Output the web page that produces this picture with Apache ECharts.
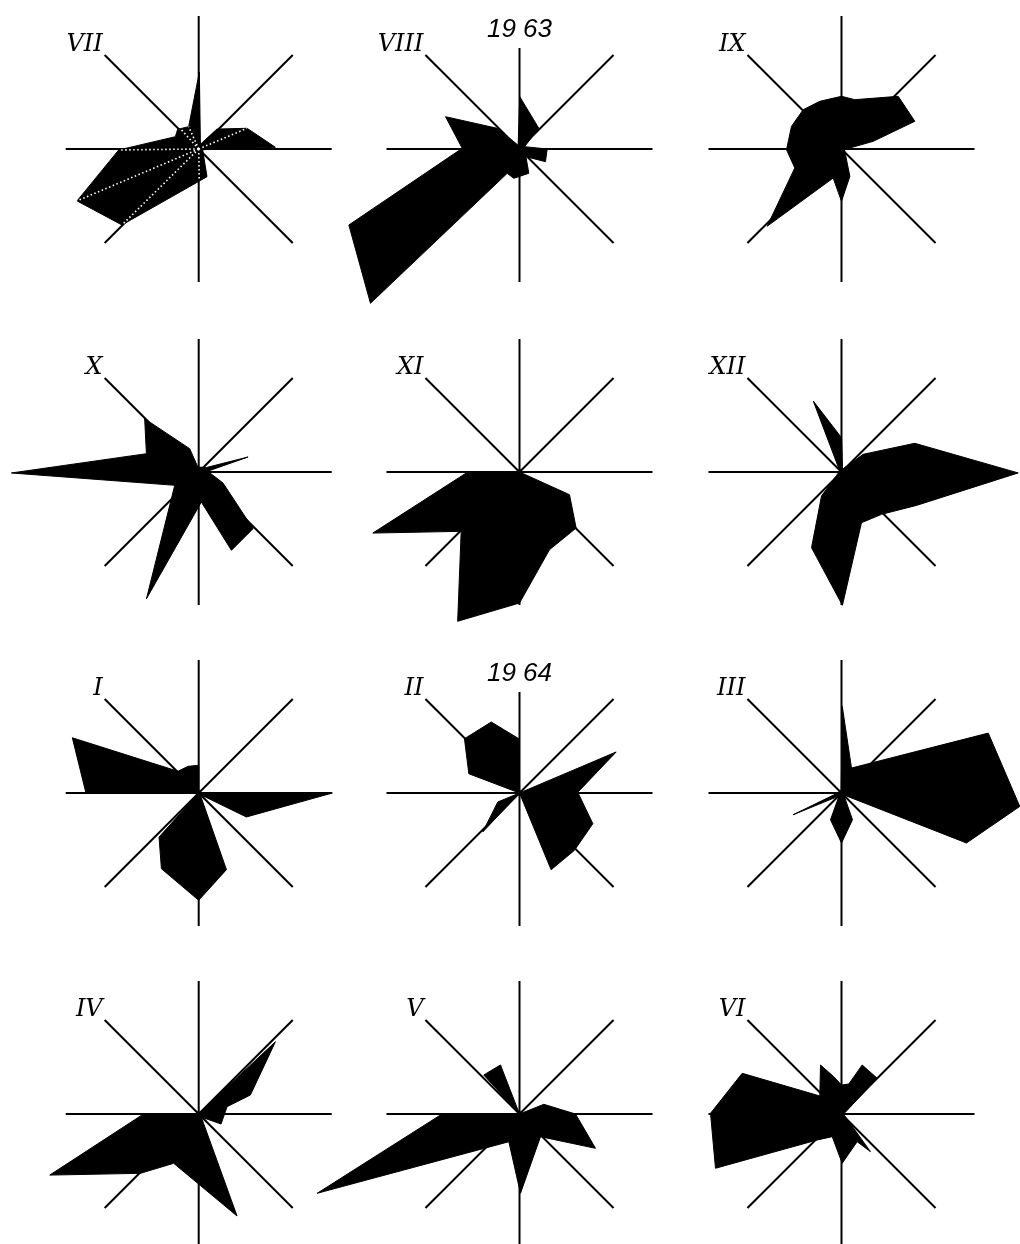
<!DOCTYPE html>
<html><head><meta charset="utf-8">
<script src="https://cdn.jsdelivr.net/npm/echarts@6/dist/echarts.min.js"></script>
<style>html,body{margin:0;padding:0;background:#fff}#c{width:1020px;height:1244px}</style>
</head><body><div id="c"></div>
<script>
// Month labels in panel order (row by row)
const months = ['VII','VIII','IX','X','XI','XII','I','II','III','IV','V','VI'];
const yearLabels = ['19 63', '19 64'];   // above VIII and II
const yearPanels = [1, 7];

// Wind-rose outlines: [bearing in degrees from north (clockwise), value]
const roseVII  = [[0.5,77],[20,5],[42.5,27],[66.8,52.6],[88.7,76.7],[100,4],[163.3,28.9],[225.3,108],[246.9,132.3],[269.3,80],[297.8,26.4],[313,28.8],[335.8,24.5]];
const raysVII  = [[269.3,80],[246.9,132.3],[225.3,108],[179,31],[66.8,52.6],[318,27],[335.8,24.5]];
const roseVIII = [[0.3,52.3],[43,28.3],[65,5.5],[90,27.7],[116,28.9],[140,10],[159,26],[191,29.9],[206.8,27.3],[224,214.5],[246,186.8],[270.7,57.3],[293.6,80.7],[312.9,30.4],[340,4]];
const roseIX   = [[0,52.7],[15.1,51.1],[47.1,77.4],[69.3,78.4],[76.4,32.6],[100,3],[163,28.6],[180,52.3],[196,30.2],[223.9,107.2],[247.9,50.4],[269.3,55],[294.4,54.9],[315.7,54.9],[335.5,52.4]];
const roseX    = [[60,9],[73.1,51.6],[85,9],[114.4,26.7],[136.2,78.5],[157.3,84.9],[175,30.1],[202.4,137],[241,27.4],[269.7,187.3],[289.3,55.4],[314.6,75.9],[338.9,25],[350,5]];
const roseXI   = [[0,0],[114.4,54.9],[134.7,79.7],[158.9,83.3],[180,131],[202.5,161.6],[224.5,83.2],[247.4,158.9],[268.9,53.3]];
const roseXII  = [[0,34.3],[20,3],[50.8,28],[68.6,78.7],[90.3,176.7],[114,82.1],[136.6,58.3],[158.5,54.5],[179.6,133.3],[201.6,81.4],[219.8,31.2],[300,2],[338.3,76.4]];
const roseI    = [[0,27.7],[45,0],[90,133.7],[116.7,53.4],[135,2],[160.1,81.5],[180,107.3],[206.2,84.4],[222,59.3],[245,0],[270.5,113],[293.6,137.9],[316.4,30],[338.2,28.7]];
const roseII   = [[20,0],[67,105],[89.3,58.3],[112.7,79.5],[136.2,79.4],[157.6,83],[190,0],[223.3,53.5],[247.5,23.5],[260,0],[290.8,54.2],[314.6,77.3],[338.3,76.4],[359.3,54.3]];
const roseIII  = [[0.5,86.7],[21.8,26.9],[67.8,158.5],[94.3,178.8],[111.8,134.6],[130,3],[157.6,28.9],[180,50],[202.4,28.9],[225,3],[230,6],[245.8,53],[260,6],[355,3]];
const roseIV   = [[40,3],[46.7,105.4],[69.8,55.1],[75.5,29.3],[114.1,24.5],[140,4],[159.4,109],[206.9,55.3],[224.5,83.2],[247.7,161],[269,56.7],[300,0]];
const roseV    = [[0,0],[68.3,26.2],[90,56],[114.3,83.4],[137.2,30.9],[179.3,79.3],[201,29.7],[248.6,217.3],[269.3,79],[290,0],[317.5,52.9],[338.8,52.6],[350,0]];
const roseVI   = [[0,29],[13.7,30.9],[22.9,53.2],[45,50.5],[95,2],[142.4,47.5],[150.5,31.8],[179.2,49.3],[202.3,24.5],[223.1,35.6],[246.7,137.2],[270.3,131],[292.3,107.3],[309.7,28.2],[336.8,53.3],[348.3,38.1]];

const roses = [roseVII, roseVIII, roseIX, roseX, roseXI, roseXII, roseI, roseII, roseIII, roseIV, roseV, roseVI];
const spokeAngles = [0, 45, 90, 135, 180, 225, 270, 315, 360];

// layout
const colX = [198.7, 519.5, 841.5];
const rowY = [149, 472, 793, 1114];
const R = 133;
const RMAX = 133;

const polar = [], angleAxis = [], radiusAxis = [], series = [], graphic = [];
roses.forEach((rose, i) => {
  const cx = colX[i % 3], cy = rowY[Math.floor(i / 3)];
  polar.push({ center: [cx, cy], radius: R });
  angleAxis.push({
    polarIndex: i, type: 'value', min: spokeAngles[0], max: spokeAngles[spokeAngles.length - 1], interval: 45,
    startAngle: 90, clockwise: true,
    axisLine: { show: false }, axisTick: { show: false }, axisLabel: { show: false },
    splitLine: { show: true, lineStyle: { color: '#000', width: 2 } }
  });
  radiusAxis.push({
    polarIndex: i, type: 'value', min: 0, max: RMAX,
    axisLine: { show: false }, axisTick: { show: false }, axisLabel: { show: false },
    splitLine: { show: false }
  });
  const data = rose.map(([a, v]) => [v, a]);
  const rays = i === 0 ? raysVII.map(([a, v]) => [v, a]) : [];
  series.push({
    type: 'custom', coordinateSystem: 'polar', polarIndex: i, silent: true, animation: false,
    data: data,
    encode: { radius: 0, angle: 1 },
    renderItem: function (params, api) {
      if (params.dataIndex !== 0) return null;
      const pts = data.map(d => api.coord(d));
      const children = [{ type: 'polygon', shape: { points: pts }, style: { fill: '#000', stroke: '#000', lineWidth: 1 } }];
      const c = api.coord([0, 0]);
      rays.forEach(d => {
        const p = api.coord(d);
        children.push({ type: 'line', shape: { x1: c[0], y1: c[1], x2: p[0], y2: p[1] },
          style: { stroke: '#fff', lineWidth: 1.6, lineDash: [1.5, 2.5] } });
      });
      return { type: 'group', children: children };
    }
  });
  graphic.push({
    type: 'text', x: cx - 96, y: cy - 92, z: 100,
    style: { text: months[i], font: 'italic 24px "DejaVu Serif"', fill: '#000',
      textAlign: 'right', textVerticalAlign: 'bottom', verticalAlign: 'bottom' }
  });
});
yearLabels.forEach((t, k) => {
  const i = yearPanels[k];
  const cx = colX[i % 3], cy = rowY[Math.floor(i / 3)];
  graphic.push({
    type: 'text', x: cx, y: cy - R + 14, z: 100,
    style: { text: t, font: 'italic 26px "Liberation Sans"', fill: '#000',
      textAlign: 'center', textVerticalAlign: 'middle', verticalAlign: 'middle',
      backgroundColor: '#fff', padding: [5, 3] }
  });
});

const chart = echarts.init(document.getElementById('c'), null, { renderer: 'canvas' });
chart.setOption({
  backgroundColor: '#fff', animation: false,
  polar, angleAxis, radiusAxis, series, graphic
});
</script></body></html>
